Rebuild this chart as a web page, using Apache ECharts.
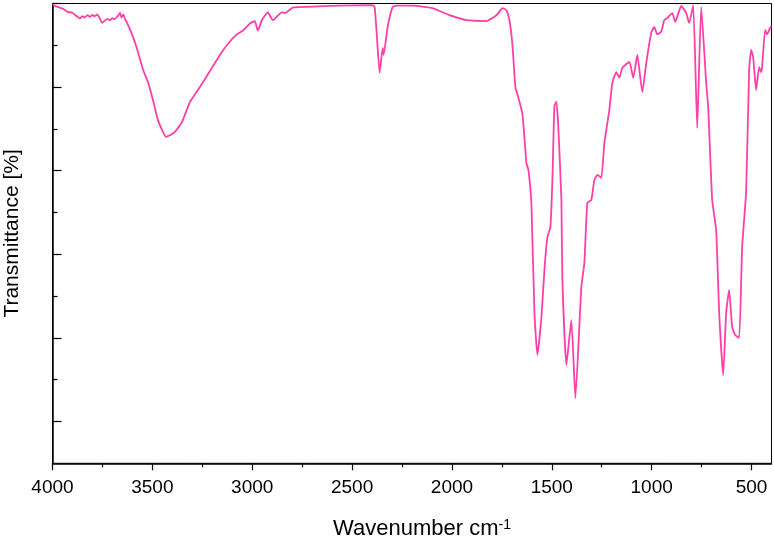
<!DOCTYPE html>
<html>
<head>
<meta charset="utf-8">
<title>IR spectrum</title>
<script src="https://cdn.jsdelivr.net/npm/echarts@6/dist/echarts.min.js"></script>
<style>
  html, body { margin: 0; padding: 0; background: #fff; }
  #chart { width: 774px; height: 537px; }
</style>
</head>
<body>
<div id="chart"></div>
<script>
// wavenumber (cm-1) and transmittance
var wavenumbers = [
  4000, 3987, 3950, 3925, 3900, 3880, 3862, 3850, 3840, 3825, 3812, 3800, 3790, 3777, 3765,
  3752, 3740, 3725, 3712, 3700, 3690, 3677, 3668, 3662, 3655, 3645, 3637, 3622, 3597, 3577,
  3547, 3522, 3497, 3472, 3447, 3432, 3420, 3387, 3352, 3312, 3262, 3197, 3152, 3112, 3077,
  3047, 3012, 2997, 2987, 2972, 2952, 2922, 2897, 2852, 2837, 2797, 2727, 2562, 2397, 2387,
  2377, 2362, 2347, 2342, 2322, 2297, 2277, 2197, 2097, 2012, 1927, 1827, 1777, 1747, 1727,
  1712, 1697, 1682, 1672, 1647, 1627, 1617, 1602, 1587, 1572, 1552, 1537, 1522, 1507, 1497,
  1487, 1477, 1467, 1452, 1447, 1427, 1402, 1382, 1352, 1337, 1322, 1302, 1287, 1272, 1252,
  1237, 1212, 1197, 1177, 1162, 1147, 1112, 1092, 1072, 1047, 1027, 1002, 987, 972, 952,
  937, 922, 897, 882, 852, 827, 812, 792, 772, 752, 727, 717, 697, 677, 662,
  642, 627, 612, 597, 582, 562, 547, 527, 512, 502, 492, 477, 462, 452, 447,
  432, 422, 407, 400
];
var transmittance = [
  99.8, 99.4, 98.8, 98.0, 97.8, 97.0, 96.4, 97.0, 96.6, 97.2, 96.8, 97.3, 96.9, 97.4, 96.6,
  95.4, 95.8, 96.3, 96.0, 96.5, 96.2, 96.8, 97.3, 97.8, 96.6, 97.4, 96.3, 94.9, 92.0, 89.2,
  84.2, 81.2, 76.9, 72.1, 69.3, 68.1, 68.3, 69.3, 71.6, 76.4, 80.0, 85.0, 88.4, 90.9, 92.6,
  93.5, 95.2, 95.6, 95.8, 93.5, 96.0, 97.9, 96.0, 97.9, 97.7, 99.0, 99.2, 99.5, 99.6, 99.2,
  93.0, 83.4, 89.4, 87.7, 94.4, 99.2, 99.5, 99.5, 98.9, 97.2, 96.0, 95.8, 97.2, 98.9, 98.4,
  96.0, 90.0, 79.8, 78.3, 73.5, 61.8, 60.2, 52.0, 26.0, 15.9, 25.0, 36.2, 44.1, 46.5, 57.8,
  75.5, 76.5, 70.0, 53.0, 33.9, 13.5, 24.3, 5.6, 32.2, 37.9, 52.3, 53.0, 57.8, 59.0, 58.3,
  66.6, 74.5, 81.0, 83.6, 82.2, 84.6, 86.0, 82.2, 87.7, 78.8, 85.8, 93.0, 94.4, 92.6, 93.3,
  96.0, 96.5, 97.7, 95.6, 99.4, 97.7, 95.3, 99.6, 70.2, 99.2, 81.0, 75.2, 53.0, 45.8, 26.0,
  11.1, 26.0, 31.5, 22.6, 20.7, 20.0, 41.7, 55.0, 84.1, 88.9, 87.2, 79.3, 84.8, 83.6, 84.8,
  93.7, 92.6, 94.2, 94.5
];

// tick positions
var xMajorTicks = [500, 1000, 1500, 2000, 2500, 3000, 3500, 4000];
var xMinorTicks = [750, 1250, 1750, 2250, 2750, 3250, 3750];
var yMajorTicks = [0, 20, 40, 60, 80, 100];
var yMinorTicks = [10, 30, 50, 70, 90];

var points = [];
for (var i = 0; i < wavenumbers.length; i++) {
  points.push([wavenumbers[i], transmittance[i]]);
}

var myChart = echarts.init(document.getElementById('chart'), null, { renderer: 'canvas' });
var font = 'Liberation Sans, Arial, sans-serif';
var X_MIN = 400, X_MAX = 4000, Y_MIN = -10, Y_MAX = 100;

var option = {
  animation: false,
  grid: {
    left: 52.5,
    right: 2.5,
    top: 3.5,
    bottom: 73.7,
    outerBoundsMode: 'none',
    containLabel: false,
    show: true,
    borderColor: '#000',
    borderWidth: 1,
    backgroundColor: 'transparent'
  },
  xAxis: [
    {
      type: 'value',
      inverse: true,
      min: X_MIN,
      max: X_MAX,
      position: 'bottom',
      name: 'Wavenumber cm{sup|-1}',
      nameLocation: 'middle',
      nameGap: 55,
      nameTextStyle: {
        fontFamily: font,
        fontSize: 22,
        color: '#000',
        padding: [0, 0, 0, 20],
        rich: {
          sup: { fontFamily: font, fontSize: 14, color: '#000', verticalAlign: 'top', lineHeight: 14 }
        }
      },
      axisLine: { onZero: false, lineStyle: { color: '#000', width: 1.5 } },
      axisTick: { inside: false, length: 7, customValues: xMajorTicks, lineStyle: { color: '#000', width: 1.2 } },
      splitLine: { show: false },
      axisLabel: {
        fontFamily: font,
        fontSize: 19,
        color: '#000',
        margin: 15,
        customValues: xMajorTicks,
        formatter: function (v) { return String(v); }
      }
    },
    {
      // minor ticks only
      type: 'value',
      inverse: true,
      min: X_MIN,
      max: X_MAX,
      position: 'bottom',
      axisLine: { show: false, onZero: false },
      axisTick: { inside: false, length: 4, customValues: xMinorTicks, lineStyle: { color: '#000', width: 1.2 } },
      axisLabel: { show: false },
      splitLine: { show: false }
    }
  ],
  yAxis: [
    {
      type: 'value',
      min: Y_MIN,
      max: Y_MAX,
      position: 'left',
      name: 'Transmittance [%]',
      nameLocation: 'middle',
      nameGap: 30,
      nameTextStyle: { fontFamily: font, fontSize: 21, color: '#000' },
      axisLine: { show: true, onZero: false, lineStyle: { color: '#000', width: 1.5 } },
      axisTick: { show: true, inside: true, length: 9, customValues: yMajorTicks, lineStyle: { color: '#000', width: 1.2 } },
      splitLine: { show: false },
      axisLabel: { show: false }
    },
    {
      // minor ticks only
      type: 'value',
      min: Y_MIN,
      max: Y_MAX,
      position: 'left',
      axisLine: { show: false, onZero: false },
      axisTick: { show: true, inside: true, length: 5, customValues: yMinorTicks, lineStyle: { color: '#000', width: 1.2 } },
      splitLine: { show: false },
      axisLabel: { show: false }
    }
  ],
  series: [
    {
      type: 'line',
      xAxisIndex: 0,
      yAxisIndex: 0,
      data: points,
      showSymbol: false,
      smooth: 0.15,
      lineStyle: { color: '#ff3fa8', width: 1.8 },
      clip: true
    }
  ]
};

option && myChart.setOption(option);
</script>
</body>
</html>
